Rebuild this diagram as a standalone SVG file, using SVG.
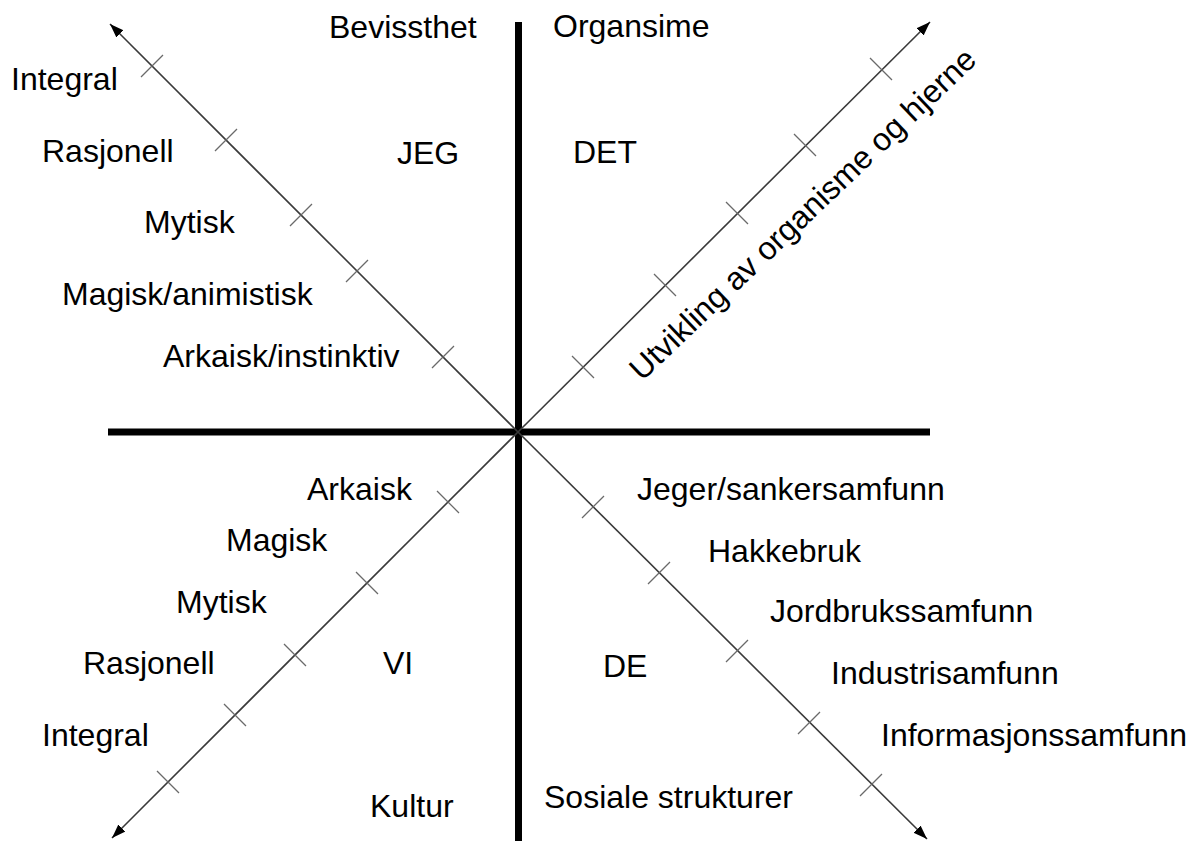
<svg xmlns="http://www.w3.org/2000/svg" width="1195" height="841" viewBox="0 0 1195 841">
<defs>
<style>
text{font-family:"Liberation Sans",Arial,sans-serif;font-size:32px;fill:#000}
.axis{stroke:#000;stroke-width:7;fill:none}
.diag{stroke:#3a3a3a;stroke-width:1.6;fill:none}
.tick{stroke:#6a6a6a;stroke-width:1.3;fill:none}
</style>
<marker id="arr" markerUnits="userSpaceOnUse" markerWidth="16" markerHeight="12" refX="14" refY="5" orient="auto">
<path d="M0,0 L14,5 L0,10 z" fill="#000"/>
</marker>
</defs>
<rect width="1195" height="841" fill="#fff"/>
<g id="connectors">
<line class="axis" x1="518.5" y1="22" x2="518.5" y2="841"/>
<line class="axis" x1="108" y1="432" x2="930" y2="432"/>
<line class="diag" x1="518" y1="432" x2="110" y2="24" marker-end="url(#arr)"/>
<line class="diag" x1="518" y1="432" x2="930" y2="22" marker-end="url(#arr)"/>
<line class="diag" x1="518" y1="432" x2="112" y2="838" marker-end="url(#arr)"/>
<line class="diag" x1="518" y1="432" x2="927" y2="839" marker-end="url(#arr)"/>
<g id="ticks">
<path class="tick" d="M432,368 l22,-22 M346,282 l22,-22 M290,226 l22,-22 M215,151 l22,-22 M141,77 l22,-22"/>
<path class="tick" d="M572,356 l22,22 M654,274 l22,22 M726,202 l22,22 M794,134 l22,22 M870,58 l22,22"/>
<path class="tick" d="M437,491 l22,22 M356,572 l22,22 M284,644 l22,22 M224,704 l22,22 M157,771 l22,22"/>
<path class="tick" d="M582,518 l22,-22 M648,584 l22,-22 M726,662 l22,-22 M798,734 l22,-22 M860,796 l22,-22"/>
</g>
</g>
<g id="quadrant-labels">
<g id="lbl-bevissthet"><text x="329" y="38">Bevissthet</text></g>
<g id="lbl-organsime"><text x="553" y="37">Organsime</text></g>
<g id="lbl-jeg"><text x="397" y="164">JEG</text></g>
<g id="lbl-det"><text x="573" y="163">DET</text></g>
<g id="lbl-vi"><text x="383" y="674">VI</text></g>
<g id="lbl-de"><text x="603" y="677">DE</text></g>
<g id="lbl-kultur"><text x="370" y="817">Kultur</text></g>
<g id="lbl-sosiale"><text x="544" y="808">Sosiale strukturer</text></g>
</g>
<g id="ul-labels">
<g id="ul-integral"><text x="11" y="90">Integral</text></g>
<g id="ul-rasjonell"><text x="42" y="162">Rasjonell</text></g>
<g id="ul-mytisk"><text x="144" y="233">Mytisk</text></g>
<g id="ul-magisk"><text x="62" y="305">Magisk/animistisk</text></g>
<g id="ul-arkaisk"><text x="163" y="367">Arkaisk/instinktiv</text></g>
</g>
<g id="ll-labels">
<g id="ll-arkaisk"><text x="307" y="500">Arkaisk</text></g>
<g id="ll-magisk"><text x="226" y="551">Magisk</text></g>
<g id="ll-mytisk"><text x="176" y="613">Mytisk</text></g>
<g id="ll-rasjonell"><text x="83" y="674">Rasjonell</text></g>
<g id="ll-integral"><text x="42" y="746">Integral</text></g>
</g>
<g id="lr-labels">
<g id="lr-jeger"><text x="637" y="500">Jeger/sankersamfunn</text></g>
<g id="lr-hakkebruk"><text x="708" y="562">Hakkebruk</text></g>
<g id="lr-jordbruk"><text x="770" y="622">Jordbrukssamfunn</text></g>
<g id="lr-industri"><text x="831" y="684">Industrisamfunn</text></g>
<g id="lr-informasjon"><text x="881" y="746">Informasjonssamfunn</text></g>
</g>
<g id="ur-label">
<text transform="translate(642,382) rotate(-43.6)">Utvikling av organisme og hjerne</text>
</g>
</svg>
